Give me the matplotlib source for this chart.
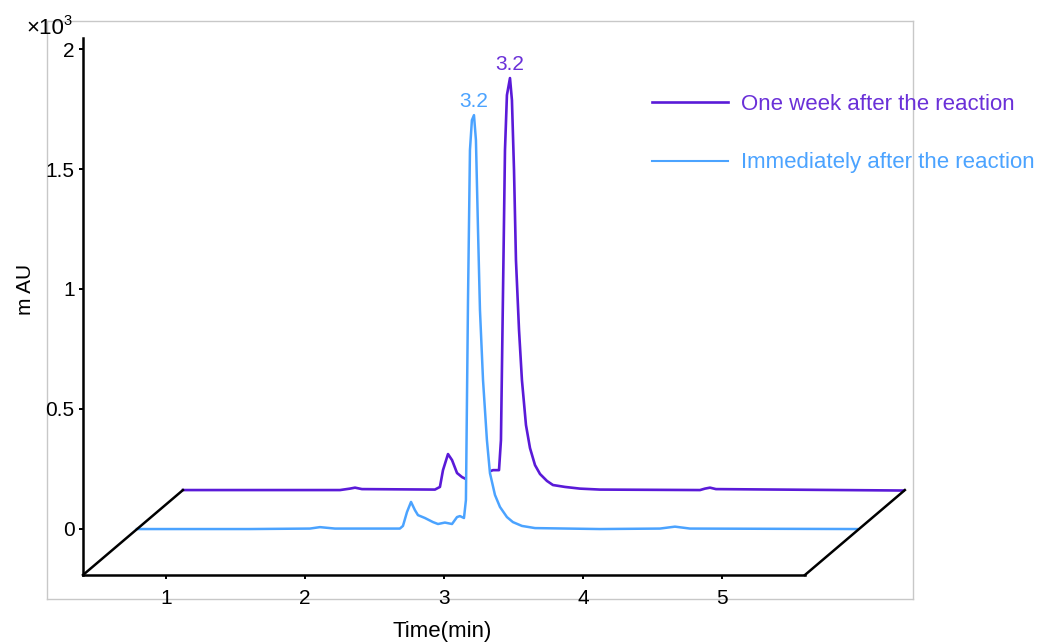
import numpy as np
import matplotlib
matplotlib.use("Agg")
import matplotlib.pyplot as plt
from matplotlib.lines import Line2D

plt.rcParams["font.family"] = ["Liberation Sans", "DejaVu Sans"]

# --- data (time in min, signal in x10^3 mAU) ---
immediate_time = [0.402, 1.215, 1.647, 1.719, 1.827, 2.294, 2.316, 2.345, 2.374,
                  2.402, 2.424, 2.474, 2.532, 2.568, 2.618, 2.669, 2.705, 2.726,
                  2.755, 2.769, 2.784, 2.798, 2.812, 2.827, 2.841, 2.856, 2.870,
                  2.892, 2.920, 2.942, 2.978, 3.014, 3.064, 3.107, 3.172, 3.266,
                  3.733, 4.165, 4.273, 4.381, 5.582]
immediate_signal = [0.0, 0.0, 0.002, 0.008, 0.002, 0.002, 0.013, 0.071, 0.113,
                    0.079, 0.058, 0.046, 0.029, 0.021, 0.027, 0.021, 0.050, 0.054,
                    0.046, 0.121, 0.954, 1.579, 1.704, 1.725, 1.621, 1.246, 0.913,
                    0.621, 0.371, 0.233, 0.142, 0.092, 0.050, 0.029, 0.013, 0.004,
                    0.0, 0.002, 0.010, 0.002, 0.0]

week_time = [0.403, 1.533, 1.605, 1.641, 1.691, 2.216, 2.252, 2.274, 2.310,
             2.339, 2.375, 2.411, 2.439, 2.504, 2.576, 2.634, 2.677, 2.691,
             2.705, 2.720, 2.734, 2.756, 2.770, 2.785, 2.799, 2.821, 2.842,
             2.871, 2.900, 2.936, 2.972, 3.022, 3.065, 3.152, 3.259, 3.403,
             4.123, 4.159, 4.195, 4.238, 5.598]
week_signal = [0.0, 0.0, 0.006, 0.010, 0.004, 0.002, 0.013, 0.083, 0.150,
               0.125, 0.071, 0.054, 0.046, 0.050, 0.071, 0.083, 0.083, 0.208,
               0.792, 1.417, 1.646, 1.717, 1.625, 1.333, 0.958, 0.667, 0.458,
               0.271, 0.175, 0.104, 0.067, 0.038, 0.021, 0.013, 0.006, 0.002,
               0.0, 0.006, 0.010, 0.004, -0.002]

peak_labels = ["3.2", "3.2"]
series_labels = ["One week after the reaction", "Immediately after the reaction"]
xticks = [1, 2, 3, 4, 5]
yticks = [0, 0.5, 1, 1.5, 2]

# --- style / layout ---
W, H = 1038, 642
PURPLE = "#5a1ad8"
PURPLE_TXT = "#6a30d8"
BLUE = "#4ba3ff"
FRONT_X = (0.403, 5.597)
FRONT_Y = -0.192
DEPTH = (0.719, 0.354)       # offset of the back plane
BLUE_DEPTH = 0.541           # fraction of DEPTH for the front trace

fig = plt.figure(figsize=(W / 100, H / 100), dpi=100)

bg = fig.add_axes([47 / W, 1 - 599 / H, 866 / W, 578 / H])
bg.set_xticks([])
bg.set_yticks([])
for sp in bg.spines.values():
    sp.set_color("#c8c8c8")
    sp.set_linewidth(1.0)

ax = fig.add_axes([83 / W, 1 - 575 / H, 822 / W, 537 / H])
ax.patch.set_alpha(0)
ax.set_xlim(0.403, 6.317)
ax.set_ylim(FRONT_Y, 2.046)

# back trace (one week)
px = np.array(week_time) + DEPTH[0]
py = np.array(week_signal) + FRONT_Y + DEPTH[1]
ax.plot(px, py, color=PURPLE, lw=1.9, zorder=2, solid_joinstyle="round")

# front trace (immediately), white fill hides the back trace
bx = np.array(immediate_time) + BLUE_DEPTH * DEPTH[0]
by = np.array(immediate_signal) + FRONT_Y + BLUE_DEPTH * DEPTH[1]
ax.fill_between(bx, by, by.min(), color="white", zorder=3)
ax.plot(bx, by, color=BLUE, lw=1.8, zorder=4, solid_joinstyle="round")

# peak labels
for xs, ys, lab, col in [(bx, by, peak_labels[1], BLUE), (px, py, peak_labels[0], PURPLE_TXT)]:
    i = int(np.argmax(ys))
    ax.annotate(lab, (xs[i], ys[i]), xytext=(0, 3), textcoords="offset points",
                ha="center", va="bottom", color=col, fontsize=15, zorder=5)

# pseudo-3D floor
ax.plot([FRONT_X[0], FRONT_X[0] + DEPTH[0]], [FRONT_Y, FRONT_Y + DEPTH[1]],
        color="black", lw=1.8, zorder=6, clip_on=False)
ax.plot([FRONT_X[1], FRONT_X[1] + DEPTH[0]], [FRONT_Y, FRONT_Y + DEPTH[1]],
        color="black", lw=1.8, zorder=6, clip_on=False)

for s in ["top", "right"]:
    ax.spines[s].set_visible(False)
ax.spines["bottom"].set_bounds(*FRONT_X)
for s in ["left", "bottom"]:
    ax.spines[s].set_linewidth(1.8)
    ax.spines[s].set_color("black")

ax.set_xticks(xticks)
ax.set_yticks(yticks)
ax.set_yticklabels([f"{v:g}" for v in yticks])
ax.tick_params(axis="both", direction="out", length=3, width=1.4, labelsize=15)
ax.tick_params(axis="x", pad=7)
ax.tick_params(axis="y", pad=3)

ax.set_xlabel("Time(min)", fontsize=16)
ax.xaxis.set_label_coords(0.437, -0.086)
ax.set_ylabel("m AU", fontsize=15)
ax.yaxis.set_label_coords(-0.059, 0.531)

fig.text(26 / W, 1 - 28 / H, "×10", fontsize=16, va="center", ha="left")
fig.text(63 / W, 1 - 21 / H, "3", fontsize=10.5, va="center", ha="left")

handles = [Line2D([], [], color=PURPLE, lw=1.9), Line2D([], [], color=BLUE, lw=1.5)]
leg = fig.legend(handles, series_labels, loc="upper left",
                 bbox_to_anchor=(652 / W, 1 - 94 / H), frameon=False,
                 fontsize=16, handlelength=3.4, handletextpad=0.6,
                 labelspacing=1.68, borderpad=0, borderaxespad=0)
for txt, col in zip(leg.get_texts(), [PURPLE_TXT, BLUE]):
    txt.set_color(col)

fig.savefig("out.png", dpi=100)
